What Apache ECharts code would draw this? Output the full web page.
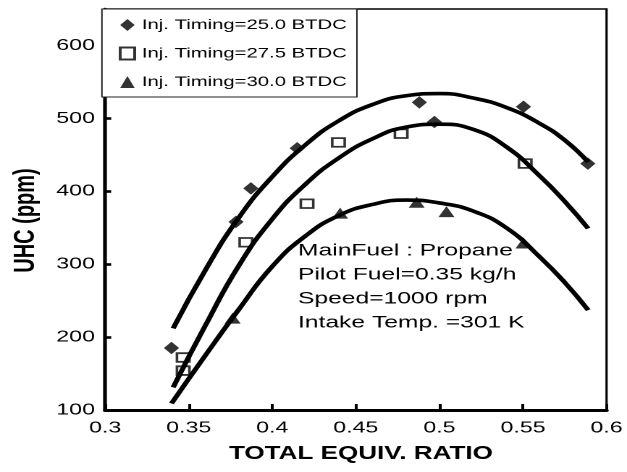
<!DOCTYPE html>
<html>
<head>
<meta charset="utf-8">
<script src="https://cdn.jsdelivr.net/npm/echarts@6/dist/echarts.min.js"></script>
<style>
  html, body { margin: 0; padding: 0; background: #fff; overflow: hidden; }
  /* the figure is laid out narrow and widened horizontally as a whole */
  #chart {
    position: absolute; left: 0; top: 0;
    width: 433px; height: 472px;
    transform: scaleX(1.44804); transform-origin: 0 0;
  }
</style>
</head>
<body>
<div id="chart"></div>
<script>
// Axis ticks
const xTicks = [0.3, 0.35, 0.4, 0.45, 0.5, 0.55, 0.6];
const yTicks = [100, 200, 300, 400, 500, 600];

// Legend names
const seriesNames = ['Inj. Timing=25.0 BTDC', 'Inj. Timing=27.5 BTDC', 'Inj. Timing=30.0 BTDC'];

// Measured UHC (ppm) vs total equivalence ratio
const uhc25 = [[0.3397, 185], [0.3783, 358], [0.3872, 404], [0.4149, 459], [0.488, 522], [0.497, 495], [0.5503, 516], [0.5888, 438]];
const uhc275 = [[0.3467, 172], [0.3467, 154], [0.3842, 330], [0.4208, 383], [0.4396, 467], [0.4771, 479], [0.5513, 438]];
const uhc30 = [[0.3763, 226], [0.4406, 370], [0.4864, 385], [0.5042, 372], [0.5503, 329]];

// Trend curves through each data set
const trend25 = [[0.3407, 212], [0.36, 292], [0.38, 364], [0.40, 420], [0.42, 464], [0.44, 497], [0.46, 519], [0.48, 531], [0.50, 534], [0.52, 528], [0.54, 515], [0.56, 493], [0.575, 470], [0.589, 440]];
const trend275 = [[0.3407, 131], [0.36, 216], [0.38, 298], [0.40, 362], [0.42, 410], [0.44, 446], [0.46, 472], [0.48, 488], [0.50, 492], [0.52, 485], [0.54, 461], [0.56, 421], [0.575, 386], [0.589, 349]];
const trend30 = [[0.3397, 109], [0.36, 175], [0.38, 238], [0.40, 297], [0.42, 339], [0.44, 367], [0.46, 382], [0.48, 388], [0.50, 384], [0.52, 373], [0.54, 350], [0.56, 310], [0.575, 275], [0.589, 237]];

// Operating conditions
const conditions = ['MainFuel : Propane', 'Pilot Fuel=0.35 kg/h', 'Speed=1000 rpm', 'Intake Temp. =301 K'];

const FONT = '"Liberation Sans", Arial, sans-serif';

const chart = echarts.init(document.getElementById('chart'), null, { devicePixelRatio: 2 });

function trendSeries(name, data) {
  return {
    name: name, type: 'line', data: data, smooth: 0.5,
    symbol: 'none', silent: true, z: 2,
    lineStyle: { color: '#000', width: 3.6 }
  };
}

chart.setOption({
  animation: false,
  backgroundColor: '#fff',
  grid: {
    left: 71.1, right: 12.4, top: 9, bottom: 62,
    show: true, borderColor: '#000', borderWidth: 1.6, backgroundColor: 'transparent'
  },
  xAxis: {
    type: 'value', min: xTicks[0], max: xTicks[xTicks.length - 1], interval: 0.05,
    name: 'TOTAL EQUIV. RATIO', nameLocation: 'middle', nameGap: 35,
    nameTextStyle: { fontFamily: FONT, fontWeight: 'bold', fontSize: 18, color: '#000', padding: [0, 0, 0, 7] },
    axisLine: { show: true, onZero: false, lineStyle: { color: '#000', width: 3 } },
    axisTick: { show: true, inside: true, length: 6, lineStyle: { color: '#000', width: 2 } },
    axisLabel: { fontFamily: FONT, fontSize: 16, color: '#000', margin: 10 },
    splitLine: { show: false }
  },
  yAxis: {
    type: 'value', min: yTicks[0], max: 650, interval: 100,
    name: 'UHC (ppm)', nameLocation: 'middle', nameGap: 44,
    nameTextStyle: { fontFamily: FONT, fontWeight: 'bold', fontSize: 20, color: '#000', padding: [0, 22, 0, 0] },
    axisLine: { show: true, onZero: false, lineStyle: { color: '#000', width: 2.6 } },
    axisTick: { show: true, inside: true, length: 4.2, lineStyle: { color: '#000', width: 2.6 } },
    axisLabel: {
      fontFamily: FONT, fontSize: 16, color: '#000', margin: 7, showMaxLabel: false,
      formatter: v => (yTicks.indexOf(v) >= 0 ? String(v) : '')
    },
    splitLine: { show: false }
  },
  legend: {
    data: seriesNames, orient: 'vertical', left: 70.4, top: 9,
    itemWidth: 10, itemHeight: 12, itemGap: 14.5,
    padding: [9, 7, 8, 11.6],
    borderColor: '#222', borderWidth: 1, backgroundColor: '#fff',
    selectedMode: false,
    textStyle: { fontFamily: FONT, fontSize: 14, color: '#000' }
  },
  graphic: [{
    type: 'text', left: 205.8, top: 239, z: 10,
    style: { text: conditions.join('\n'), font: '17px ' + FONT, fill: '#000', lineHeight: 24 }
  }],
  series: [
    trendSeries('fit 25.0', trend25),
    trendSeries('fit 27.5', trend275),
    trendSeries('fit 30.0', trend30),
    {
      name: seriesNames[0], type: 'scatter', data: uhc25, z: 5,
      symbol: 'diamond', symbolSize: [10.5, 12.5],
      itemStyle: { color: '#000' }
    },
    {
      name: seriesNames[1], type: 'scatter', data: uhc275, z: 5,
      symbol: 'rect', symbolSize: [8.6, 8.6],
      itemStyle: { color: 'rgba(255,255,255,0)', borderColor: '#000', borderWidth: 1.8 }
    },
    {
      name: seriesNames[2], type: 'scatter', data: uhc30, z: 5,
      symbol: 'triangle', symbolSize: [11, 11],
      itemStyle: { color: '#000' }
    }
  ]
});
</script>
</body>
</html>
